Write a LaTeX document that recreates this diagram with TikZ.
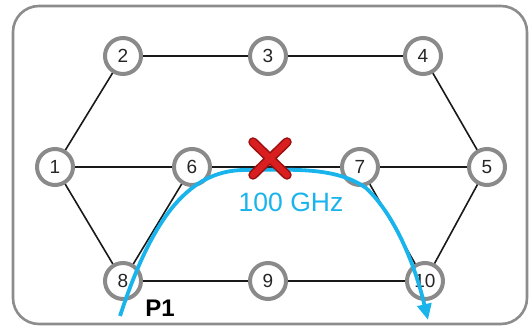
\documentclass[tikz,border=0pt]{standalone}
\usepackage{fontspec}
\setmainfont{Liberation Sans}
\usetikzlibrary{arrows.meta}
\definecolor{framegray}{HTML}{8C8C8C}
\definecolor{nodegray}{HTML}{8A8A8A}
\definecolor{pathblue}{HTML}{1AB4EC}
\definecolor{xred}{HTML}{D81E1E}
\definecolor{xdark}{HTML}{9A0E0E}
\begin{document}
\begin{tikzpicture}[x=1pt,y=-1pt,
  nd/.style={circle,draw=nodegray,line width=4pt,fill=white,minimum size=36pt,inner sep=0pt,outer sep=0pt,text=black!85,font=\fontsize{19}{19}\selectfont},
  link/.style={black!90,line width=1.6pt},
  route/.style={pathblue,line width=3.8pt,-{Triangle[length=16pt,width=14pt]}}]
\useasboundingbox (0,0) rectangle (531,328);
\draw[framegray,line width=2.6pt,rounded corners=26pt] (13,6) rectangle (527,324);
\coordinate (c1) at (55,167);
\coordinate (c2) at (123,56);
\coordinate (c3) at (268,56);
\coordinate (c4) at (423,56);
\coordinate (c5) at (487,167);
\coordinate (c6) at (192,167);
\coordinate (c7) at (360,167);
\coordinate (c8) at (123,281);
\coordinate (c9) at (268,281);
\coordinate (c10) at (425,281);
\draw[link] (c1)--(c2) (c2)--(c3) (c3)--(c4) (c4)--(c5) (c1)--(c6) (c6)--(c7) (c7)--(c5)
  (c1)--(c8) (c6)--(c8) (c7)--(c10) (c5)--(c10) (c8)--(c9) (c9)--(c10);
\node[nd] (n1) at (c1) {1};
\node[nd] (n2) at (c2) {2};
\node[nd] (n3) at (c3) {3};
\node[nd] (n4) at (c4) {4};
\node[nd] (n5) at (c5) {5};
\node[nd] (n6) at (c6) {6};
\node[nd] (n7) at (c7) {7};
\node[nd] (n8) at (c8) {8};
\node[nd] (n9) at (c9) {9};
\node[nd] (n10) at (c10) {10};
\coordinate (ps) at (120,316);
\coordinate (pe) at (428,320);
\draw[route] (ps) .. controls (150,225) and (185,170) .. (245,170)
  .. controls (290,170) and (335,166) .. (366,188)
  .. controls (395,215) and (415,265) .. (pe);
\draw[xdark,line width=9.5pt,line cap=round] (253,142) -- (287,175) (287,142) -- (253,175);
\draw[xred,line width=6.5pt,line cap=round] (253,142) -- (287,175) (287,142) -- (253,175);
\node[text=pathblue,font=\fontsize{26.5}{26.5}\selectfont] (lbl) at (291,202) {100 GHz};
\node[font=\bfseries\fontsize{24}{24}\selectfont] (p1) at (160,308) {P1};
\end{tikzpicture}
\end{document}
